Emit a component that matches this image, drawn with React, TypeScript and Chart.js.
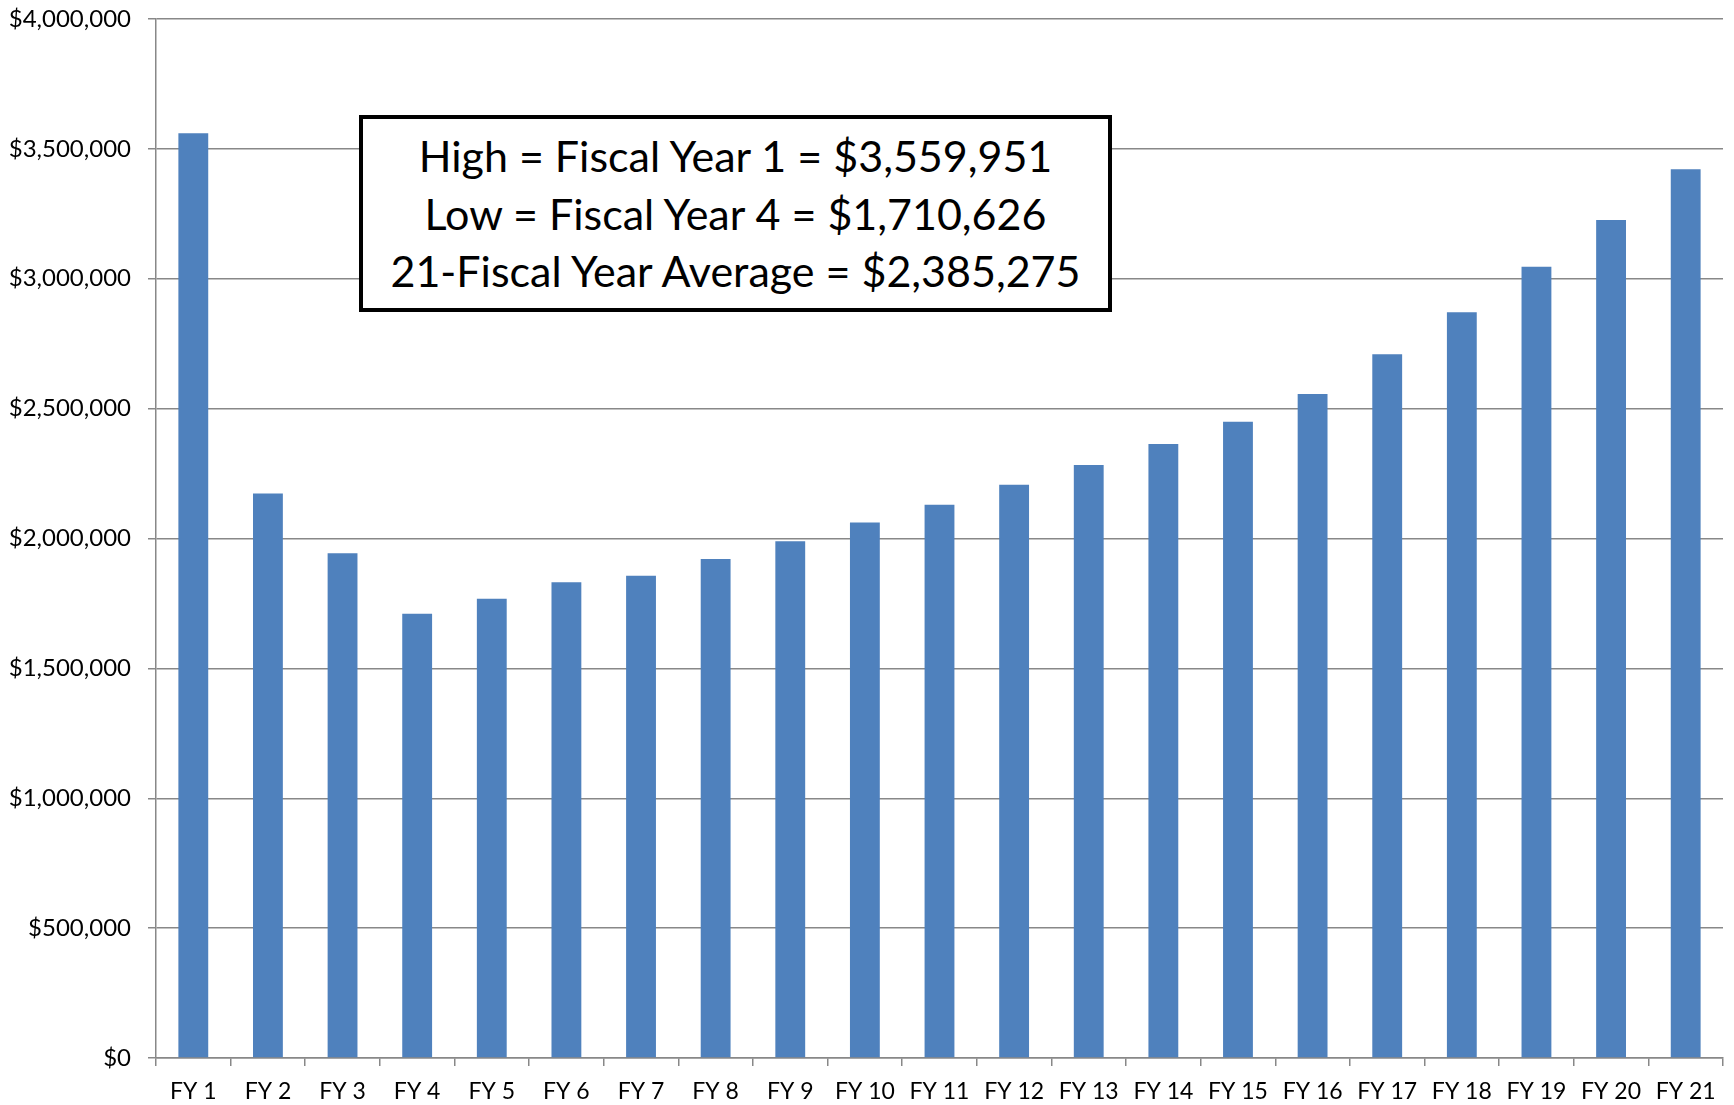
import React, { useEffect, useRef } from "react";
import { Chart, registerables } from "chart.js";

Chart.register(...registerables);

const categories = [
  "FY 1", "FY 2", "FY 3", "FY 4", "FY 5", "FY 6", "FY 7", "FY 8", "FY 9", "FY 10",
  "FY 11", "FY 12", "FY 13", "FY 14", "FY 15", "FY 16", "FY 17", "FY 18", "FY 19", "FY 20", "FY 21",
];

const values = [
  3559951, 2173000, 1943000, 1710626, 1768000, 1832000, 1857000, 1921000, 1989000, 2062000,
  2130000, 2207000, 2283000, 2364000, 2449000, 2556000, 2709000, 2871000, 3046000, 3226000, 3422000,
];

const annotationLines = [
  "High = Fiscal Year 1 = $3,559,951",
  "Low = Fiscal Year 4 = $1,710,626",
  "21-Fiscal Year Average = $2,385,275",
];

const yMin = 0;
const yMax = 4000000;
const yStep = 500000;

const FONT = "Lato, 'Open Sans', sans-serif";

export default function App() {
  const canvasRef = useRef<HTMLCanvasElement | null>(null);

  useEffect(() => {
    const canvas = canvasRef.current;
    if (!canvas) return;
    const chart = new Chart(canvas, {
      type: "bar",
      data: {
        labels: categories,
        datasets: [
          {
            data: values,
            backgroundColor: "#4F81BD",
            borderWidth: 0,
            barPercentage: 0.4,
            categoryPercentage: 1.0,
          },
        ],
      },
      options: {
        animation: false,
        responsive: false,
        devicePixelRatio: 1,
        layout: { padding: { top: 19, right: 11, left: 0, bottom: 0 } },
        plugins: { legend: { display: false }, tooltip: { enabled: false } },
        scales: {
          x: {
            offset: true,
            grid: {
              display: true,
              offset: true,
              drawOnChartArea: false,
              drawTicks: true,
              tickLength: 8,
              color: "#888888",
              lineWidth: 1.5,
            },
            border: { display: true, color: "#888888", width: 1.5 },
            ticks: {
              color: "#000000",
              font: { family: FONT, size: 23 },
              padding: 12,
              maxRotation: 0,
              autoSkip: false,
            },
            afterFit: (scale: any) => {
              scale.height = 47;
            },
          },
          y: {
            min: yMin,
            max: yMax,
            grid: {
              color: "#888888",
              lineWidth: 1.5,
              drawTicks: true,
              tickLength: 8,
            },
            border: { display: true, color: "#888888", width: 1.5 },
            ticks: {
              stepSize: yStep,
              color: "#000000",
              font: { family: FONT, size: 24 },
              padding: 17,
              callback: (v: any) => "$" + Number(v).toLocaleString("en-US"),
            },
            afterFit: (scale: any) => {
              scale.width = 156;
              scale.paddingTop = 0;
              scale.paddingBottom = 0;
            },
          },
        },
      },
    });
    return () => chart.destroy();
  }, []);

  return (
    <div style={{ position: "absolute", left: 0, top: 0, width: 1734, height: 1105, background: "#fff" }}>
      <canvas ref={canvasRef} width={1734} height={1105} style={{ display: "block" }} />
      <div
        style={{
          position: "absolute",
          left: 359,
          top: 115,
          width: 753,
          height: 197,
          boxSizing: "border-box",
          border: "4px solid #000",
          background: "#fff",
          display: "flex",
          flexDirection: "column",
          justifyContent: "center",
          alignItems: "center",
          fontFamily: FONT,
          fontSize: 43,
          lineHeight: "57.5px",
          color: "#000",
          whiteSpace: "nowrap",
        }}
      >
        {annotationLines.map((t) => (
          <div key={t}>{t}</div>
        ))}
      </div>
    </div>
  );
}
